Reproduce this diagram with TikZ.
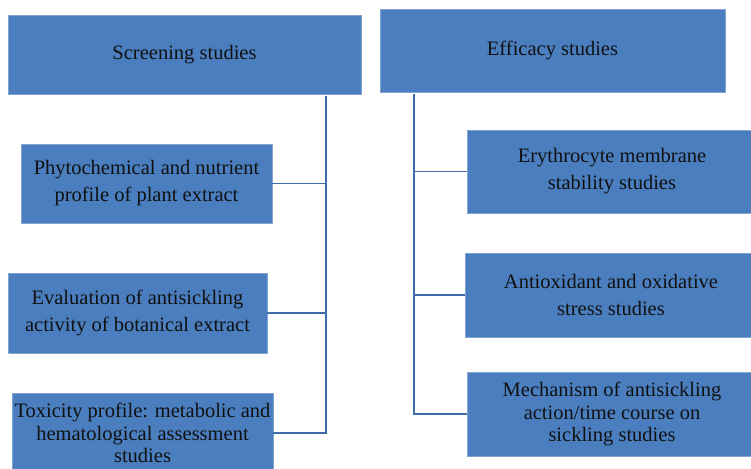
\documentclass[tikz,border=0pt]{standalone}
\usepackage{fontspec}
\setmainfont{Liberation Serif}
\definecolor{boxblue}{HTML}{4A7EBE}
\definecolor{linkblue}{HTML}{3F6DA8}
\definecolor{txt}{HTML}{111111}
\begin{document}
\begin{tikzpicture}[x=1pt,y=-1pt,
  box/.style={fill=boxblue, draw=boxblue!70!white, line width=0.6pt, align=center,
    text=txt, font=\fontsize{20.5}{27}\selectfont, inner sep=0pt},
  tight/.style={font=\fontsize{20.5}{22.5}\selectfont},
  link/.style={draw=linkblue, line width=1.6pt}]
\useasboundingbox (0,0) rectangle (751,468);
% headers
\node[box, minimum width=353, minimum height=79] (screen) at (184.5,54.5) {Screening studies};
\node[box, minimum width=345, minimum height=83] (effic) at (552.5,50.5) {\raisebox{-3pt}{Efficacy studies}};
% left children
\node[box, minimum width=251, minimum height=79] (phyto) at (146.5,183.5) {Phytochemical and nutrient\\profile of plant extract};
\node[box, minimum width=259, minimum height=80] (eval) at (137.5,313) {Evaluation of antisickling\\activity of botanical extract};
\node[box, tight, minimum width=261, minimum height=80] (tox) at (142.5,433) {Toxicity profile: metabolic and\\hematological assessment\\studies};
% right children
\node[box, minimum width=290, minimum height=83] (ery) at (612,171.5) {Erythrocyte membrane\\stability studies};
\node[box, minimum width=292, minimum height=84] (anti) at (611,295) {Antioxidant and oxidative\\stress studies};
\node[box, tight, minimum width=290, minimum height=84] (mech) at (612,414) {Mechanism of antisickling\\action/time course on\\sickling studies};
% trunks
\coordinate (tL) at (326,96);
\coordinate (tR) at (414,94);
\draw[link] (tL) -- (tL |- tox.east) -- (tox.east);
\draw[link] (phyto.east) -- (phyto.east -| tL);
\draw[link] (eval.east) -- (eval.east -| tL);
\draw[link] (tR) -- (tR |- mech.west) -- (mech.west);
\draw[link] (ery.west) -- (ery.west -| tR);
\draw[link] (anti.west) -- (anti.west -| tR);
\end{tikzpicture}
\end{document}
